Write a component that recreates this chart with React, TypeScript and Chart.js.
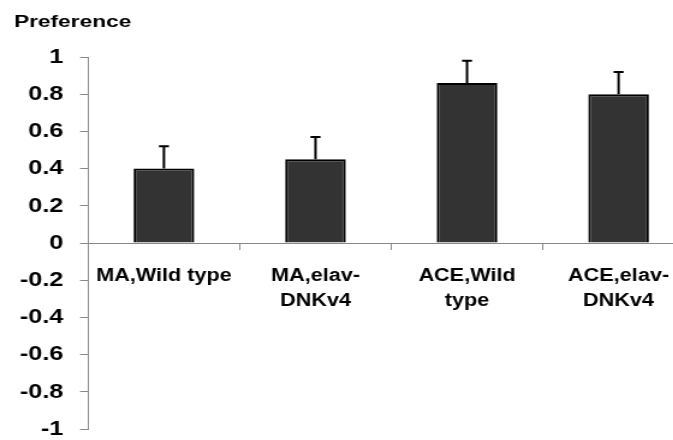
import React, { useEffect, useRef } from "react";
import { Chart, registerables } from "chart.js";

Chart.register(...registerables);

const categories: string[][] = [
  ["MA,Wild type"],
  ["MA,elav-", "DNKv4"],
  ["ACE,Wild", "type"],
  ["ACE,elav-", "DNKv4"],
];
const means: number[] = [0.4, 0.45, 0.86, 0.8];
const errors: number[] = [0.12, 0.12, 0.12, 0.12];
const yTicks: number[] = [-1, -0.8, -0.6, -0.4, -0.2, 0, 0.2, 0.4, 0.6, 0.8, 1];
const yTitle = "Preference";

const SX = 1.2; // horizontal stretch of the original picture
const W = 710 / SX;
const H = 440;
const FONT = "'Liberation Sans', Arial, sans-serif";

const errorBarPlugin = {
  id: "errorBars",
  afterDatasetsDraw(chart: any) {
    const ctx = chart.ctx;
    const meta = chart.getDatasetMeta(0);
    const y = chart.scales.y;
    ctx.save();
    ctx.strokeStyle = "#000";
    ctx.lineWidth = 2;
    meta.data.forEach((bar: any, i: number) => {
      const top = y.getPixelForValue(means[i] + errors[i]);
      const base = y.getPixelForValue(means[i]);
      ctx.beginPath();
      ctx.moveTo(bar.x, base);
      ctx.lineTo(bar.x, top);
      ctx.moveTo(bar.x - 10 / SX / 2, top);
      ctx.lineTo(bar.x + 10 / SX / 2, top);
      ctx.stroke();
    });
    ctx.restore();
  },
};

const titlePlugin = {
  id: "prefTitle",
  afterDraw(chart: any) {
    const ctx = chart.ctx;
    ctx.save();
    ctx.font = `bold 16px ${FONT}`;
    ctx.fillStyle = "#000";
    ctx.textBaseline = "alphabetic";
    const w = ctx.measureText(yTitle).width;
    const target = 117 / SX;
    ctx.translate(14 / SX, 27);
    ctx.scale(target / w, 1);
    ctx.fillText(yTitle, 0, 0);
    ctx.restore();
  },
};

export default function App() {
  const ref = useRef<HTMLCanvasElement>(null);
  useEffect(() => {
    const canvas = ref.current!;
    const chart = new Chart(canvas, {
      type: "bar",
      data: {
        labels: categories,
        datasets: [
          {
            data: means,
            backgroundColor: "#333333",
            borderColor: "#000000",
            borderWidth: 2,
            barPercentage: 0.4,
            categoryPercentage: 1,
          },
        ],
      },
      options: {
        responsive: false,
        animation: false,
        devicePixelRatio: 1,
        layout: { padding: { left: 0, right: W - 694 / SX, top: 57, bottom: 11 } },
        plugins: {
          legend: { display: false },
          tooltip: { enabled: false },
          title: { display: false },
        },
        scales: {
          x: {
            position: { y: 0 } as any,
            offset: true,
            grid: {
              display: true,
              drawOnChartArea: false,
              drawTicks: true,
              tickLength: 6,
              color: "#888888",
              offset: true,
            },
            border: { display: true, color: "#888888", width: 1 },
            ticks: {
              autoSkip: false,
              maxRotation: 0,
              minRotation: 0,
              padding: 14,
              color: "#000",
              font: { family: FONT, size: 18, weight: "bold", lineHeight: 1.4 },
            },
          },
          y: {
            min: -1,
            max: 1,
            afterFit(scale: any) {
              scale.width = 88 / SX;
              scale.paddingTop = 0;
              scale.paddingBottom = 0;
            },
            afterBuildTicks(scale: any) {
              scale.ticks = yTicks.map((v) => ({ value: v }));
            },
            grid: {
              display: true,
              drawOnChartArea: false,
              drawTicks: true,
              tickLength: 8 / SX,
              color: "#888888",
            },
            border: { display: true, color: "#888888", width: 1 },
            ticks: {
              padding: 14,
              color: "#000",
              font: { family: FONT, size: 21, weight: "bold", lineHeight: 1 },
              callback: (v: any) => String(Number(Number(v).toFixed(1))),
            },
          },
        },
      },
      plugins: [errorBarPlugin, titlePlugin],
    });
    return () => chart.destroy();
  }, []);

  return (
    <div
      style={{
        position: "fixed",
        left: 0,
        top: 0,
        width: 673,
        height: 440,
        overflow: "hidden",
        background: "#fff",
      }}
    >
      <div style={{ width: W, height: H, transform: `scaleX(${SX})`, transformOrigin: "0 0" }}>
        <canvas ref={ref} width={W} height={H} style={{ width: W, height: H, display: "block" }} />
      </div>
    </div>
  );
}
